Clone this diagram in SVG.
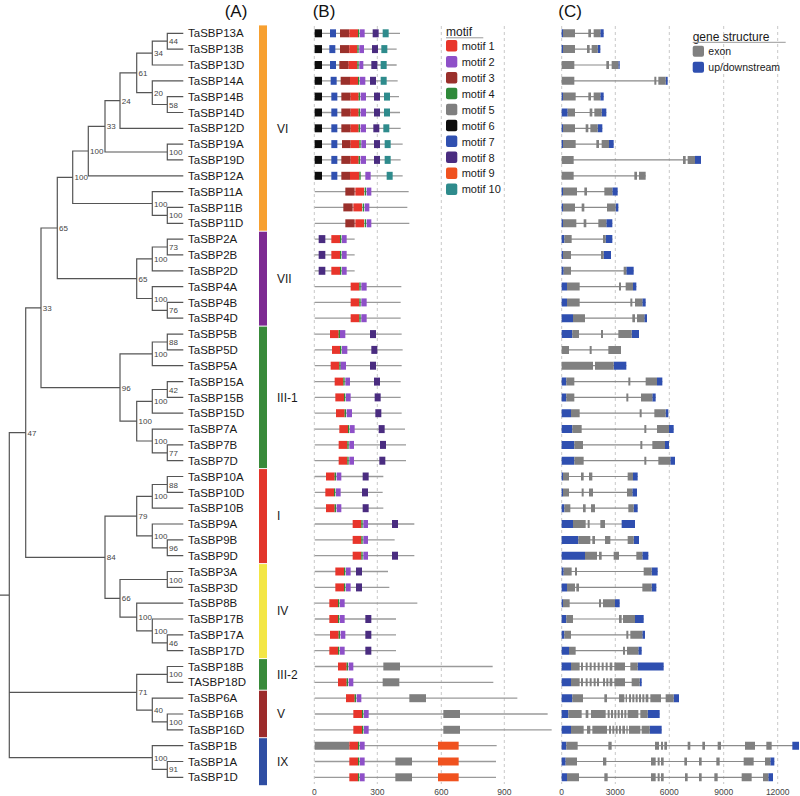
<svg xmlns="http://www.w3.org/2000/svg" width="800" height="796" viewBox="0 0 800 796">
<style>
text{font-family:"Liberation Sans",Arial,sans-serif}
.gn{font-size:11.5px;fill:#1a1a1a}
.bs{font-size:8px;fill:#444}
.cl{font-size:12px;fill:#1a1a1a}
.hd{font-size:17px;fill:#111}
.ax{font-size:8.5px;fill:#444;text-anchor:middle}
.lg{font-size:11px;fill:#1a1a1a}
.lgc{font-size:10.5px;fill:#1a1a1a}
.lt{font-size:12px;fill:#1a1a1a}
.tree{fill:none;stroke:#555;stroke-width:1.2}
.grid{stroke:#c8c8c8;stroke-dasharray:3 3;stroke-width:1}
.pl{stroke:#9a9a9a;stroke-width:1.3;fill:none}
.il{stroke:#8a8a8a;stroke-width:1.2;fill:none}
.m1{fill:#E8352B}.m2{fill:#8E50C8}.m3{fill:#9A302B}.m4{fill:#2F8A3A}.m5{fill:#7F7F7F}
.m6{fill:#0D0D0D}.m7{fill:#3050B0}.m8{fill:#4A2C80}.m9{fill:#F0521F}.m10{fill:#2E8B8C}
.ex{fill:#808080}.ud{fill:#2F4FB0}
</style>

<g id="headers">
<text class="hd" x="236" y="16.5" text-anchor="middle">(A)</text>
<text class="hd" x="312.7" y="16.5">(B)</text>
<text class="hd" x="558.3" y="16.5">(C)</text>
</g>

<g id="grid">
<path class="grid" d="M314.3 26V784M377.3 26V784M441.3 26V784M504.3 26V784M561.7 26V784M615.3 26V784M669.3 26V784M723.7 26V784M777.7 26V784"/>
</g>

<g id="connectors">
<path class="tree" d="M183.3 33.3H167.3V49.1H183.3M167.3 41.2H152.3V65H183.3M183.3 96.6H167.3V112.5H183.3M183.3 80.8H152.3V104.5H167.3M152.3 53.1H136.7V92.7H152.3M136.7 72.9H120V128.3H183.3M183.3 144.1H167.3V159.9H183.3M120 100.6H105V152H167.3M105 126.3H88.3V175.8H183.3M183.3 207.4H167.3V223.3H183.3M183.3 191.6H152.3V215.4H167.3M88.3 151H72.7V203.5H152.3M183.3 239.1H167.3V254.9H183.3M167.3 247H152.3V270.8H183.3M183.3 302.4H167.3V318.2H183.3M183.3 286.6H152.3V310.3H167.3M152.3 258.9H136.7V298.5H152.3M72.7 177.3H57.3V278.7H136.7M183.3 334.1H167.3V349.9H183.3M167.3 342H152.3V365.7H183.3M183.3 381.6H167.3V397.4H183.3M167.3 389.5H152.3V413.2H183.3M183.3 444.9H167.3V460.7H183.3M183.3 429.1H152.3V452.8H167.3M152.3 401.4H136.7V441H152.3M152.3 353.9H120V421.2H136.7M57.3 228H41V387.6H120M183.3 476.5H167.3V492.4H183.3M167.3 484.5H152.3V508.2H183.3M183.3 539.9H167.3V555.7H183.3M183.3 524H152.3V547.8H167.3M152.3 496.4H136.7V535.9H152.3M183.3 571.5H167.3V587.4H183.3M183.3 634.8H167.3V650.7H183.3M183.3 619H152.3V642.8H167.3M183.3 603.2H136.7V630.9H152.3M167.3 579.5H120V617.1H136.7M136.7 516.2H105V598.3H120M41 307.8H25.7V557.3H105M183.3 666.5H167.3V682.3H183.3M183.3 714H167.3V729.8H183.3M183.3 698.2H152.3V721.9H167.3M167.3 674.4H136.7V710.1H152.3M183.3 761.5H167.3V777.3H183.3M183.3 745.7H152.3V769.4H167.3M25.7 432.6H9.3V757.6H152.3M9.3 692.3H136.7M0 595.1H9.3"/>
</g>

<g id="bootstrap">
<text class="bs" x="169.1" y="44.2">44</text>
<text class="bs" x="154.1" y="56.1">34</text>
<text class="bs" x="169.1" y="107.5">58</text>
<text class="bs" x="154.1" y="95.7">20</text>
<text class="bs" x="138.5" y="75.9">61</text>
<text class="bs" x="121.8" y="103.6">24</text>
<text class="bs" x="169.1" y="155">100</text>
<text class="bs" x="106.8" y="129.3">33</text>
<text class="bs" x="90.1" y="154">100</text>
<text class="bs" x="169.1" y="218.4">100</text>
<text class="bs" x="154.1" y="206.5">100</text>
<text class="bs" x="74.5" y="180.3">100</text>
<text class="bs" x="169.1" y="250">73</text>
<text class="bs" x="154.1" y="261.9">100</text>
<text class="bs" x="169.1" y="313.3">76</text>
<text class="bs" x="154.1" y="301.5">100</text>
<text class="bs" x="138.5" y="281.7">65</text>
<text class="bs" x="59.1" y="231">65</text>
<text class="bs" x="169.1" y="345">88</text>
<text class="bs" x="154.1" y="356.9">100</text>
<text class="bs" x="169.1" y="392.5">42</text>
<text class="bs" x="154.1" y="404.4">100</text>
<text class="bs" x="169.1" y="455.8">77</text>
<text class="bs" x="154.1" y="444">100</text>
<text class="bs" x="138.5" y="424.2">100</text>
<text class="bs" x="121.8" y="390.6">96</text>
<text class="bs" x="42.8" y="310.8">33</text>
<text class="bs" x="169.1" y="487.5">88</text>
<text class="bs" x="154.1" y="499.4">100</text>
<text class="bs" x="169.1" y="550.8">96</text>
<text class="bs" x="154.1" y="538.9">100</text>
<text class="bs" x="138.5" y="519.2">79</text>
<text class="bs" x="169.1" y="582.5">100</text>
<text class="bs" x="169.1" y="645.8">46</text>
<text class="bs" x="154.1" y="633.9">100</text>
<text class="bs" x="138.5" y="620.1">100</text>
<text class="bs" x="121.8" y="601.3">66</text>
<text class="bs" x="106.8" y="560.3">84</text>
<text class="bs" x="27.5" y="435.6">47</text>
<text class="bs" x="169.1" y="677.4">100</text>
<text class="bs" x="169.1" y="724.9">100</text>
<text class="bs" x="154.1" y="713.1">40</text>
<text class="bs" x="138.5" y="695.3">71</text>
<text class="bs" x="169.1" y="772.4">91</text>
<text class="bs" x="154.1" y="760.6">100</text>
</g>

<g id="clades">
<rect x="259" y="25.4" width="8" height="205.3" fill="#F7A030"/>
<rect x="259" y="231.7" width="8" height="93.9" fill="#7D2A92"/>
<rect x="259" y="326.6" width="8" height="141.5" fill="#388A3A"/>
<rect x="259" y="469.1" width="8" height="94" fill="#E2352A"/>
<rect x="259" y="564.1" width="8" height="94" fill="#F3E645"/>
<rect x="259" y="659.1" width="8" height="30.6" fill="#388A3A"/>
<rect x="259" y="690.7" width="8" height="46.5" fill="#9C2B2B"/>
<rect x="259" y="738.2" width="8" height="47" fill="#2F4EA3"/>
<text class="cl" x="277" y="132.5">VI</text>
<text class="cl" x="277" y="282.8">VII</text>
<text class="cl" x="277" y="401.5">III-1</text>
<text class="cl" x="277" y="520.4">I</text>
<text class="cl" x="277" y="615">IV</text>
<text class="cl" x="277" y="678.8">III-2</text>
<text class="cl" x="277" y="718.2">V</text>
<text class="cl" x="277" y="765.8">IX</text>
</g>

<g id="legend-motif">
<text class="lt" x="446" y="36">motif</text>
<path d="M446 37.8H483.3" stroke="#999" stroke-width="1"/>
<rect class="m1" x="446" y="40" width="11.3" height="11.5" rx="2"/>
<rect class="m2" x="446" y="55.9" width="11.3" height="11.5" rx="2"/>
<rect class="m3" x="446" y="71.9" width="11.3" height="11.5" rx="2"/>
<rect class="m4" x="446" y="87.8" width="11.3" height="11.5" rx="2"/>
<rect class="m5" x="446" y="103.7" width="11.3" height="11.5" rx="2"/>
<rect class="m6" x="446" y="119.7" width="11.3" height="11.5" rx="2"/>
<rect class="m7" x="446" y="135.6" width="11.3" height="11.5" rx="2"/>
<rect class="m8" x="446" y="151.5" width="11.3" height="11.5" rx="2"/>
<rect class="m9" x="446" y="167.4" width="11.3" height="11.5" rx="2"/>
<rect class="m10" x="446" y="183.4" width="11.3" height="11.5" rx="2"/>
<text class="lg" x="461.7" y="50">motif 1</text>
<text class="lg" x="461.7" y="65.9">motif 2</text>
<text class="lg" x="461.7" y="81.9">motif 3</text>
<text class="lg" x="461.7" y="97.8">motif 4</text>
<text class="lg" x="461.7" y="113.7">motif 5</text>
<text class="lg" x="461.7" y="129.7">motif 6</text>
<text class="lg" x="461.7" y="145.6">motif 7</text>
<text class="lg" x="461.7" y="161.5">motif 8</text>
<text class="lg" x="461.7" y="177.4">motif 9</text>
<text class="lg" x="461.7" y="193.4">motif 10</text>
</g>

<g id="legend-structure">
<text class="lt" x="692.7" y="40.5">gene structure</text>
<path d="M692.7 42.3H785.7" stroke="#999" stroke-width="1"/>
<rect class="ex" x="692.7" y="45.7" width="11.3" height="11" rx="2"/>
<rect class="ud" x="692.7" y="61.7" width="11.3" height="11" rx="2"/>
<text class="lgc" x="708.3" y="54.8">exon</text>
<text class="lgc" x="708.3" y="70.6">up/downstream</text>
</g>

<g id="axes">
<text class="ax" x="314.3" y="794.5">0</text>
<text class="ax" x="377.3" y="794.5">300</text>
<text class="ax" x="441.3" y="794.5">600</text>
<text class="ax" x="504.3" y="794.5">900</text>
<text class="ax" x="561.7" y="794.5">0</text>
<text class="ax" x="615.3" y="794.5">3000</text>
<text class="ax" x="669.3" y="794.5">6000</text>
<text class="ax" x="723.7" y="794.5">9000</text>
<text class="ax" x="777.7" y="794.5">12000</text>
</g>

<g id="TaSBP13A" transform="translate(0,33.3)"><text class="gn" x="188" y="4.1">TaSBP13A</text>
<g transform="translate(300,0) scale(.333333,1)"><path class="pl" d="M44 0H300"/><path class="m6" d="M44-4H66v8H44z"/><path class="m7" d="M90-4H108v8H90z"/><path class="m3" d="M120-4H148v8H120z"/><path class="m1" d="M148-4H174v8H148z"/><path class="m4" d="M174-4H178v8H174z"/><path class="m2" d="M180-4H194v8H180z"/><path class="m8" d="M218-4H236v8H218z"/><path class="m10" d="M248-4H266v8H248z"/></g>
<g transform="translate(555,0) scale(.333333,1)"><path class="il" d="M20 0H146"/><path class="ud" d="M20-4H24v8H20zM136-4H146v8H136z"/><path class="ex" d="M24-4H60v8H24zM100-4H108v8H100zM116-4H136v8H116z"/></g></g>

<g id="TaSBP13B" transform="translate(0,49.1)"><text class="gn" x="188" y="4.1">TaSBP13B</text>
<g transform="translate(300,0) scale(.333333,1)"><path class="pl" d="M44 0H290"/><path class="m6" d="M44-4H66v8H44z"/><path class="m7" d="M88-4H106v8H88z"/><path class="m3" d="M120-4H148v8H120z"/><path class="m1" d="M148-4H172v8H148z"/><path class="m4" d="M172-4H176v8H172z"/><path class="m2" d="M178-4H192v8H178z"/><path class="m8" d="M216-4H234v8H216z"/><path class="m10" d="M244-4H262v8H244z"/></g>
<g transform="translate(555,0) scale(.333333,1)"><path class="il" d="M20 0H136"/><path class="ud" d="M20-4H24v8H20zM128-4H136v8H128z"/><path class="ex" d="M24-4H60v8H24zM96-4H104v8H96zM110-4H128v8H110z"/></g></g>

<g id="TaSBP13D" transform="translate(0,65)"><text class="gn" x="188" y="4.1">TaSBP13D</text>
<g transform="translate(300,0) scale(.333333,1)"><path class="pl" d="M44 0H290"/><path class="m6" d="M44-4H66v8H44z"/><path class="m7" d="M90-4H108v8H90z"/><path class="m3" d="M118-4H146v8H118z"/><path class="m1" d="M146-4H172v8H146z"/><path class="m4" d="M172-4H176v8H172z"/><path class="m2" d="M178-4H190v8H178z"/><path class="m8" d="M214-4H232v8H214z"/><path class="m10" d="M242-4H260v8H242z"/></g>
<g transform="translate(555,0) scale(.333333,1)"><path class="il" d="M20 0H194"/><path class="ud" d="M190-4H194v8H190z"/><path class="ex" d="M20-4H58v8H20zM154-4H162v8H154zM170-4H190v8H170z"/></g></g>

<g id="TaSBP14A" transform="translate(0,80.8)"><text class="gn" x="188" y="4.1">TaSBP14A</text>
<g transform="translate(300,0) scale(.333333,1)"><path class="pl" d="M44 0H293"/><path class="m6" d="M44-4H66v8H44z"/><path class="m7" d="M92-4H110v8H92z"/><path class="m3" d="M122-4H150v8H122z"/><path class="m1" d="M150-4H174v8H150z"/><path class="m4" d="M174-4H178v8H174z"/><path class="m2" d="M180-4H196v8H180z"/><path class="m8" d="M210-4H228v8H210z"/><path class="m10" d="M242-4H260v8H242z"/></g>
<g transform="translate(555,0) scale(.333333,1)"><path class="il" d="M20 0H338"/><path class="ud" d="M332-4H338v8H332z"/><path class="ex" d="M20-4H58v8H20zM298-4H304v8H298zM310-4H332v8H310z"/></g></g>

<g id="TaSBP14B" transform="translate(0,96.6)"><text class="gn" x="188" y="4.1">TaSBP14B</text>
<g transform="translate(300,0) scale(.333333,1)"><path class="pl" d="M44 0H297"/><path class="m6" d="M44-4H66v8H44z"/><path class="m7" d="M94-4H112v8H94z"/><path class="m3" d="M124-4H152v8H124z"/><path class="m1" d="M152-4H176v8H152z"/><path class="m4" d="M176-4H180v8H176z"/><path class="m2" d="M182-4H198v8H182z"/><path class="m8" d="M222-4H240v8H222z"/><path class="m10" d="M252-4H270v8H252z"/></g>
<g transform="translate(555,0) scale(.333333,1)"><path class="il" d="M20 0H146"/><path class="ud" d="M20-4H24v8H20zM136-4H146v8H136z"/><path class="ex" d="M24-4H62v8H24zM100-4H108v8H100zM116-4H136v8H116z"/></g></g>

<g id="TaSBP14D" transform="translate(0,112.5)"><text class="gn" x="188" y="4.1">TaSBP14D</text>
<g transform="translate(300,0) scale(.333333,1)"><path class="pl" d="M44 0H300"/><path class="m6" d="M44-4H66v8H44z"/><path class="m7" d="M94-4H112v8H94z"/><path class="m3" d="M124-4H152v8H124z"/><path class="m1" d="M152-4H176v8H152z"/><path class="m4" d="M176-4H180v8H176z"/><path class="m2" d="M182-4H198v8H182z"/><path class="m8" d="M222-4H240v8H222z"/><path class="m10" d="M252-4H270v8H252z"/></g>
<g transform="translate(555,0) scale(.333333,1)"><path class="il" d="M20 0H154"/><path class="ud" d="M20-4H38v8H20zM140-4H154v8H140z"/><path class="ex" d="M38-4H60v8H38zM104-4H112v8H104zM118-4H140v8H118z"/></g></g>

<g id="TaSBP12D" transform="translate(0,128.3)"><text class="gn" x="188" y="4.1">TaSBP12D</text>
<g transform="translate(300,0) scale(.333333,1)"><path class="pl" d="M44 0H302"/><path class="m6" d="M44-4H66v8H44z"/><path class="m7" d="M94-4H112v8H94z"/><path class="m3" d="M124-4H152v8H124z"/><path class="m1" d="M152-4H176v8H152z"/><path class="m4" d="M176-4H180v8H176z"/><path class="m2" d="M182-4H198v8H182z"/><path class="m8" d="M220-4H238v8H220z"/><path class="m10" d="M250-4H268v8H250z"/></g>
<g transform="translate(555,0) scale(.333333,1)"><path class="il" d="M20 0H142"/><path class="ud" d="M20-4H24v8H20zM128-4H142v8H128z"/><path class="ex" d="M24-4H60v8H24zM92-4H100v8H92zM106-4H128v8H106z"/></g></g>

<g id="TaSBP19A" transform="translate(0,144.1)"><text class="gn" x="188" y="4.1">TaSBP19A</text>
<g transform="translate(300,0) scale(.333333,1)"><path class="pl" d="M44 0H308"/><path class="m6" d="M44-4H66v8H44z"/><path class="m7" d="M94-4H112v8H94z"/><path class="m3" d="M126-4H152v8H126z"/><path class="m1" d="M152-4H178v8H152z"/><path class="m4" d="M178-4H182v8H178z"/><path class="m2" d="M184-4H198v8H184z"/><path class="m8" d="M222-4H240v8H222z"/><path class="m10" d="M254-4H272v8H254z"/></g>
<g transform="translate(555,0) scale(.333333,1)"><path class="il" d="M20 0H176"/><path class="ud" d="M20-4H24v8H20zM162-4H176v8H162z"/><path class="ex" d="M24-4H62v8H24zM124-4H132v8H124zM140-4H162v8H140z"/></g></g>

<g id="TaSBP19D" transform="translate(0,159.9)"><text class="gn" x="188" y="4.1">TaSBP19D</text>
<g transform="translate(300,0) scale(.333333,1)"><path class="pl" d="M44 0H302"/><path class="m6" d="M44-4H66v8H44z"/><path class="m7" d="M94-4H112v8H94z"/><path class="m3" d="M124-4H152v8H124z"/><path class="m1" d="M152-4H176v8H152z"/><path class="m4" d="M176-4H180v8H176z"/><path class="m2" d="M182-4H198v8H182z"/><path class="m8" d="M222-4H240v8H222z"/><path class="m10" d="M254-4H272v8H254z"/></g>
<g transform="translate(555,0) scale(.333333,1)"><path class="il" d="M20 0H438"/><path class="ud" d="M420-4H438v8H420z"/><path class="ex" d="M20-4H56v8H20zM384-4H392v8H384zM398-4H420v8H398z"/></g></g>

<g id="TaSBP12A" transform="translate(0,175.8)"><text class="gn" x="188" y="4.1">TaSBP12A</text>
<g transform="translate(300,0) scale(.333333,1)"><path class="pl" d="M44 0H308"/><path class="m6" d="M44-4H66v8H44z"/><path class="m7" d="M94-4H112v8H94z"/><path class="m3" d="M124-4H150v8H124z"/><path class="m1" d="M150-4H178v8H150z"/><path class="m4" d="M178-4H182v8H178z"/><path class="m2" d="M196-4H212v8H196z"/><path class="m10" d="M260-4H278v8H260z"/></g>
<g transform="translate(555,0) scale(.333333,1)"><path class="il" d="M20 0H272"/><path class="ex" d="M20-4H56v8H20zM238-4H246v8H238zM252-4H272v8H252z"/></g></g>

<g id="TaSBP11A" transform="translate(0,191.6)"><text class="gn" x="188" y="4.1">TaSBP11A</text>
<g transform="translate(300,0) scale(.333333,1)"><path class="pl" d="M44 0H326"/><path class="m3" d="M136-4H164v8H136z"/><path class="m1" d="M166-4H192v8H166z"/><path class="m4" d="M194-4H198v8H194z"/><path class="m2" d="M200-4H214v8H200z"/></g>
<g transform="translate(555,0) scale(.333333,1)"><path class="il" d="M20 0H188"/><path class="ud" d="M20-4H24v8H20zM172-4H188v8H172z"/><path class="ex" d="M24-4H66v8H24zM88-4H96v8H88zM148-4H172v8H148z"/></g></g>

<g id="TaSBP11B" transform="translate(0,207.4)"><text class="gn" x="188" y="4.1">TaSBP11B</text>
<g transform="translate(300,0) scale(.333333,1)"><path class="pl" d="M44 0H322"/><path class="m3" d="M130-4H158v8H130z"/><path class="m1" d="M160-4H186v8H160z"/><path class="m4" d="M188-4H192v8H188z"/><path class="m2" d="M194-4H208v8H194z"/></g>
<g transform="translate(555,0) scale(.333333,1)"><path class="il" d="M20 0H190"/><path class="ud" d="M20-4H24v8H20zM182-4H190v8H182z"/><path class="ex" d="M24-4H60v8H24zM80-4H88v8H80zM156-4H182v8H156z"/></g></g>

<g id="TaSBP11D" transform="translate(0,223.3)"><text class="gn" x="188" y="4.1">TaSBP11D</text>
<g transform="translate(300,0) scale(.333333,1)"><path class="pl" d="M44 0H328"/><path class="m3" d="M136-4H164v8H136z"/><path class="m1" d="M166-4H192v8H166z"/><path class="m4" d="M194-4H198v8H194z"/><path class="m2" d="M200-4H214v8H200z"/></g>
<g transform="translate(555,0) scale(.333333,1)"><path class="il" d="M20 0H172"/><path class="ud" d="M20-4H24v8H20zM154-4H172v8H154z"/><path class="ex" d="M24-4H64v8H24zM86-4H94v8H86zM130-4H154v8H130z"/></g></g>

<g id="TaSBP2A" transform="translate(0,239.1)"><text class="gn" x="188" y="4.1">TaSBP2A</text>
<g transform="translate(300,0) scale(.333333,1)"><path class="pl" d="M44 0H164"/><path class="m8" d="M56-4H76v8H56z"/><path class="m1" d="M94-4H120v8H94z"/><path class="m4" d="M120-4H124v8H120z"/><path class="m2" d="M126-4H140v8H126z"/></g>
<g transform="translate(555,0) scale(.333333,1)"><path class="il" d="M20 0H172"/><path class="ud" d="M20-4H28v8H20zM152-4H172v8H152z"/><path class="ex" d="M28-4H50v8H28zM144-4H152v8H144z"/></g></g>

<g id="TaSBP2B" transform="translate(0,254.9)"><text class="gn" x="188" y="4.1">TaSBP2B</text>
<g transform="translate(300,0) scale(.333333,1)"><path class="pl" d="M44 0H164"/><path class="m8" d="M56-4H76v8H56z"/><path class="m1" d="M94-4H120v8H94z"/><path class="m4" d="M120-4H124v8H120z"/><path class="m2" d="M126-4H140v8H126z"/></g>
<g transform="translate(555,0) scale(.333333,1)"><path class="il" d="M20 0H168"/><path class="ud" d="M20-4H24v8H20zM146-4H168v8H146z"/><path class="ex" d="M24-4H48v8H24zM138-4H146v8H138z"/></g></g>

<g id="TaSBP2D" transform="translate(0,270.8)"><text class="gn" x="188" y="4.1">TaSBP2D</text>
<g transform="translate(300,0) scale(.333333,1)"><path class="pl" d="M44 0H164"/><path class="m8" d="M56-4H76v8H56z"/><path class="m1" d="M94-4H120v8H94z"/><path class="m4" d="M120-4H124v8H120z"/><path class="m2" d="M126-4H140v8H126z"/></g>
<g transform="translate(555,0) scale(.333333,1)"><path class="il" d="M20 0H236"/><path class="ud" d="M20-4H26v8H20zM214-4H236v8H214z"/><path class="ex" d="M26-4H48v8H26zM206-4H214v8H206z"/></g></g>

<g id="TaSBP4A" transform="translate(0,286.6)"><text class="gn" x="188" y="4.1">TaSBP4A</text>
<g transform="translate(300,0) scale(.333333,1)"><path class="pl" d="M44 0H304"/><path class="m1" d="M152-4H178v8H152z"/><path class="m4" d="M178-4H182v8H178z"/><path class="m2" d="M184-4H200v8H184z"/></g>
<g transform="translate(555,0) scale(.333333,1)"><path class="il" d="M20 0H244"/><path class="ud" d="M20-4H36v8H20zM234-4H244v8H234z"/><path class="ex" d="M36-4H74v8H36zM192-4H198v8H192zM212-4H234v8H212z"/></g></g>

<g id="TaSBP4B" transform="translate(0,302.4)"><text class="gn" x="188" y="4.1">TaSBP4B</text>
<g transform="translate(300,0) scale(.333333,1)"><path class="pl" d="M44 0H302"/><path class="m1" d="M152-4H178v8H152z"/><path class="m4" d="M178-4H182v8H178z"/><path class="m2" d="M184-4H200v8H184z"/></g>
<g transform="translate(555,0) scale(.333333,1)"><path class="il" d="M20 0H272"/><path class="ud" d="M20-4H36v8H20zM262-4H272v8H262z"/><path class="ex" d="M36-4H74v8H36zM226-4H232v8H226zM240-4H262v8H240z"/></g></g>

<g id="TaSBP4D" transform="translate(0,318.2)"><text class="gn" x="188" y="4.1">TaSBP4D</text>
<g transform="translate(300,0) scale(.333333,1)"><path class="pl" d="M44 0H302"/><path class="m1" d="M152-4H178v8H152z"/><path class="m4" d="M178-4H182v8H178z"/><path class="m2" d="M184-4H200v8H184z"/></g>
<g transform="translate(555,0) scale(.333333,1)"><path class="il" d="M20 0H276"/><path class="ud" d="M20-4H54v8H20zM268-4H276v8H268z"/><path class="ex" d="M54-4H90v8H54zM232-4H240v8H232zM246-4H268v8H246z"/></g></g>

<g id="TaSBP5B" transform="translate(0,334.1)"><text class="gn" x="188" y="4.1">TaSBP5B</text>
<g transform="translate(300,0) scale(.333333,1)"><path class="pl" d="M44 0H305"/><path class="m1" d="M90-4H116v8H90z"/><path class="m4" d="M116-4H120v8H116z"/><path class="m2" d="M120-4H136v8H120z"/><path class="m8" d="M210-4H228v8H210z"/></g>
<g transform="translate(555,0) scale(.333333,1)"><path class="il" d="M20 0H252"/><path class="ud" d="M20-4H52v8H20zM230-4H252v8H230z"/><path class="ex" d="M52-4H72v8H52zM138-4H144v8H138zM190-4H230v8H190z"/></g></g>

<g id="TaSBP5D" transform="translate(0,349.9)"><text class="gn" x="188" y="4.1">TaSBP5D</text>
<g transform="translate(300,0) scale(.333333,1)"><path class="pl" d="M44 0H308"/><path class="m1" d="M96-4H120v8H96z"/><path class="m4" d="M120-4H124v8H120z"/><path class="m2" d="M126-4H142v8H126z"/><path class="m8" d="M214-4H232v8H214z"/></g>
<g transform="translate(555,0) scale(.333333,1)"><path class="il" d="M20 0H198"/><path class="ex" d="M20-4H42v8H20zM104-4H110v8H104zM160-4H198v8H160z"/></g></g>

<g id="TaSBP5A" transform="translate(0,365.7)"><text class="gn" x="188" y="4.1">TaSBP5A</text>
<g transform="translate(300,0) scale(.333333,1)"><path class="pl" d="M44 0H305"/><path class="m1" d="M92-4H118v8H92z"/><path class="m4" d="M118-4H122v8H118z"/><path class="m2" d="M122-4H138v8H122z"/><path class="m8" d="M210-4H228v8H210z"/></g>
<g transform="translate(555,0) scale(.333333,1)"><path class="il" d="M20 0H214"/><path class="ud" d="M176-4H214v8H176z"/><path class="ex" d="M20-4H114v8H20zM120-4H176v8H120z"/></g></g>

<g id="TaSBP15A" transform="translate(0,381.6)"><text class="gn" x="188" y="4.1">TaSBP15A</text>
<g transform="translate(300,0) scale(.333333,1)"><path class="pl" d="M44 0H302"/><path class="m1" d="M104-4H130v8H104z"/><path class="m4" d="M130-4H134v8H130z"/><path class="m2" d="M136-4H150v8H136z"/><path class="m8" d="M222-4H240v8H222z"/></g>
<g transform="translate(555,0) scale(.333333,1)"><path class="il" d="M20 0H322"/><path class="ud" d="M20-4H34v8H20zM306-4H322v8H306z"/><path class="ex" d="M34-4H58v8H34zM220-4H226v8H220zM272-4H306v8H272z"/></g></g>

<g id="TaSBP15B" transform="translate(0,397.4)"><text class="gn" x="188" y="4.1">TaSBP15B</text>
<g transform="translate(300,0) scale(.333333,1)"><path class="pl" d="M44 0H302"/><path class="m1" d="M106-4H132v8H106z"/><path class="m4" d="M132-4H136v8H132z"/><path class="m2" d="M138-4H152v8H138z"/><path class="m8" d="M224-4H242v8H224z"/></g>
<g transform="translate(555,0) scale(.333333,1)"><path class="il" d="M20 0H302"/><path class="ud" d="M20-4H34v8H20zM292-4H302v8H292z"/><path class="ex" d="M34-4H58v8H34zM214-4H220v8H214zM258-4H292v8H258z"/></g></g>

<g id="TaSBP15D" transform="translate(0,413.2)"><text class="gn" x="188" y="4.1">TaSBP15D</text>
<g transform="translate(300,0) scale(.333333,1)"><path class="pl" d="M44 0H305"/><path class="m1" d="M108-4H134v8H108z"/><path class="m4" d="M134-4H138v8H134z"/><path class="m2" d="M140-4H156v8H140z"/><path class="m8" d="M226-4H244v8H226z"/></g>
<g transform="translate(555,0) scale(.333333,1)"><path class="il" d="M20 0H340"/><path class="ud" d="M20-4H48v8H20zM332-4H340v8H332z"/><path class="ex" d="M48-4H74v8H48zM254-4H260v8H254zM298-4H332v8H298z"/></g></g>

<g id="TaSBP7A" transform="translate(0,429.1)"><text class="gn" x="188" y="4.1">TaSBP7A</text>
<g transform="translate(300,0) scale(.333333,1)"><path class="pl" d="M44 0H315"/><path class="m1" d="M118-4H144v8H118z"/><path class="m4" d="M144-4H148v8H144z"/><path class="m2" d="M150-4H164v8H150z"/><path class="m8" d="M236-4H254v8H236z"/></g>
<g transform="translate(555,0) scale(.333333,1)"><path class="il" d="M20 0H356"/><path class="ud" d="M20-4H52v8H20zM342-4H356v8H342z"/><path class="ex" d="M52-4H80v8H52zM268-4H274v8H268zM306-4H342v8H306z"/></g></g>

<g id="TaSBP7B" transform="translate(0,444.9)"><text class="gn" x="188" y="4.1">TaSBP7B</text>
<g transform="translate(300,0) scale(.333333,1)"><path class="pl" d="M44 0H318"/><path class="m1" d="M116-4H142v8H116z"/><path class="m4" d="M142-4H146v8H142z"/><path class="m2" d="M148-4H162v8H148z"/><path class="m8" d="M240-4H258v8H240z"/></g>
<g transform="translate(555,0) scale(.333333,1)"><path class="il" d="M20 0H342"/><path class="ud" d="M20-4H58v8H20zM330-4H342v8H330z"/><path class="ex" d="M58-4H84v8H58zM256-4H262v8H256zM292-4H330v8H292z"/></g></g>

<g id="TaSBP7D" transform="translate(0,460.7)"><text class="gn" x="188" y="4.1">TaSBP7D</text>
<g transform="translate(300,0) scale(.333333,1)"><path class="pl" d="M44 0H318"/><path class="m1" d="M116-4H142v8H116z"/><path class="m4" d="M142-4H146v8H142z"/><path class="m2" d="M148-4H162v8H148z"/><path class="m8" d="M238-4H256v8H238z"/></g>
<g transform="translate(555,0) scale(.333333,1)"><path class="il" d="M20 0H360"/><path class="ud" d="M20-4H58v8H20zM346-4H360v8H346z"/><path class="ex" d="M58-4H86v8H58zM268-4H274v8H268zM310-4H346v8H310z"/></g></g>

<g id="TaSBP10A" transform="translate(0,476.5)"><text class="gn" x="188" y="4.1">TaSBP10A</text>
<g transform="translate(300,0) scale(.333333,1)"><path class="pl" d="M44 0H250"/><path class="m1" d="M78-4H104v8H78z"/><path class="m4" d="M104-4H108v8H104z"/><path class="m2" d="M110-4H124v8H110z"/><path class="m8" d="M188-4H206v8H188z"/></g>
<g transform="translate(555,0) scale(.333333,1)"><path class="il" d="M20 0H248"/><path class="ud" d="M20-4H24v8H20zM234-4H248v8H234z"/><path class="ex" d="M24-4H42v8H24zM78-4H86v8H78zM102-4H112v8H102zM218-4H234v8H218z"/></g></g>

<g id="TaSBP10D" transform="translate(0,492.4)"><text class="gn" x="188" y="4.1">TaSBP10D</text>
<g transform="translate(300,0) scale(.333333,1)"><path class="pl" d="M44 0H248"/><path class="m1" d="M76-4H102v8H76z"/><path class="m4" d="M102-4H106v8H102z"/><path class="m2" d="M108-4H122v8H108z"/><path class="m8" d="M186-4H204v8H186z"/></g>
<g transform="translate(555,0) scale(.333333,1)"><path class="il" d="M20 0H246"/><path class="ud" d="M20-4H24v8H20zM232-4H246v8H232z"/><path class="ex" d="M24-4H42v8H24zM80-4H86v8H80zM102-4H114v8H102zM216-4H232v8H216z"/></g></g>

<g id="TaSBP10B" transform="translate(0,508.2)"><text class="gn" x="188" y="4.1">TaSBP10B</text>
<g transform="translate(300,0) scale(.333333,1)"><path class="pl" d="M44 0H250"/><path class="m1" d="M78-4H104v8H78z"/><path class="m4" d="M104-4H108v8H104z"/><path class="m2" d="M110-4H124v8H110z"/><path class="m8" d="M188-4H206v8H188z"/></g>
<g transform="translate(555,0) scale(.333333,1)"><path class="il" d="M20 0H248"/><path class="ud" d="M20-4H28v8H20zM236-4H248v8H236z"/><path class="ex" d="M28-4H46v8H28zM84-4H92v8H84zM108-4H120v8H108zM220-4H236v8H220z"/></g></g>

<g id="TaSBP9A" transform="translate(0,524)"><text class="gn" x="188" y="4.1">TaSBP9A</text>
<g transform="translate(300,0) scale(.333333,1)"><path class="pl" d="M44 0H343"/><path class="m1" d="M158-4H184v8H158z"/><path class="m4" d="M184-4H188v8H184z"/><path class="m2" d="M190-4H204v8H190z"/><path class="m8" d="M276-4H294v8H276z"/></g>
<g transform="translate(555,0) scale(.333333,1)"><path class="il" d="M20 0H240"/><path class="ud" d="M20-4H54v8H20zM200-4H240v8H200z"/><path class="ex" d="M54-4H92v8H54zM98-4H104v8H98zM136-4H150v8H136z"/></g></g>

<g id="TaSBP9B" transform="translate(0,539.9)"><text class="gn" x="188" y="4.1">TaSBP9B</text>
<g transform="translate(300,0) scale(.333333,1)"><path class="pl" d="M44 0H284"/><path class="m1" d="M158-4H184v8H158z"/><path class="m4" d="M184-4H188v8H184z"/><path class="m2" d="M190-4H204v8H190z"/></g>
<g transform="translate(555,0) scale(.333333,1)"><path class="il" d="M20 0H252"/><path class="ud" d="M20-4H70v8H20zM236-4H252v8H236z"/><path class="ex" d="M70-4H106v8H70zM112-4H120v8H112zM150-4H166v8H150zM218-4H236v8H218z"/></g></g>

<g id="TaSBP9D" transform="translate(0,555.7)"><text class="gn" x="188" y="4.1">TaSBP9D</text>
<g transform="translate(300,0) scale(.333333,1)"><path class="pl" d="M44 0H343"/><path class="m1" d="M158-4H184v8H158z"/><path class="m4" d="M184-4H188v8H184z"/><path class="m2" d="M190-4H204v8H190z"/><path class="m8" d="M276-4H294v8H276z"/></g>
<g transform="translate(555,0) scale(.333333,1)"><path class="il" d="M20 0H280"/><path class="ud" d="M20-4H90v8H20zM262-4H280v8H262z"/><path class="ex" d="M90-4H126v8H90zM132-4H140v8H132zM176-4H192v8H176zM244-4H262v8H244z"/></g></g>

<g id="TaSBP3A" transform="translate(0,571.5)"><text class="gn" x="188" y="4.1">TaSBP3A</text>
<g transform="translate(300,0) scale(.333333,1)"><path class="pl" d="M44 0H264"/><path class="m1" d="M106-4H132v8H106z"/><path class="m4" d="M132-4H136v8H132z"/><path class="m2" d="M138-4H152v8H138z"/><path class="m8" d="M168-4H186v8H168z"/></g>
<g transform="translate(555,0) scale(.333333,1)"><path class="il" d="M20 0H308"/><path class="ud" d="M20-4H26v8H20zM290-4H308v8H290z"/><path class="ex" d="M26-4H50v8H26zM60-4H66v8H60zM266-4H290v8H266z"/></g></g>

<g id="TaSBP3D" transform="translate(0,587.4)"><text class="gn" x="188" y="4.1">TaSBP3D</text>
<g transform="translate(300,0) scale(.333333,1)"><path class="pl" d="M44 0H268"/><path class="m1" d="M106-4H132v8H106z"/><path class="m4" d="M132-4H136v8H132z"/><path class="m2" d="M138-4H152v8H138z"/><path class="m8" d="M168-4H186v8H168z"/></g>
<g transform="translate(555,0) scale(.333333,1)"><path class="il" d="M20 0H304"/><path class="ud" d="M20-4H36v8H20zM290-4H304v8H290z"/><path class="ex" d="M36-4H60v8H36zM64-4H72v8H64zM262-4H290v8H262z"/></g></g>

<g id="TaSBP8B" transform="translate(0,603.2)"><text class="gn" x="188" y="4.1">TaSBP8B</text>
<g transform="translate(300,0) scale(.333333,1)"><path class="pl" d="M44 0H352"/><path class="m1" d="M88-4H114v8H88z"/><path class="m4" d="M114-4H118v8H114z"/><path class="m2" d="M120-4H134v8H120z"/></g>
<g transform="translate(555,0) scale(.333333,1)"><path class="il" d="M20 0H194"/><path class="ud" d="M20-4H24v8H20zM180-4H194v8H180z"/><path class="ex" d="M24-4H44v8H24zM132-4H138v8H132zM144-4H180v8H144z"/></g></g>

<g id="TaSBP17B" transform="translate(0,619)"><text class="gn" x="188" y="4.1">TaSBP17B</text>
<g transform="translate(300,0) scale(.333333,1)"><path class="pl" d="M44 0H288"/><path class="m1" d="M88-4H114v8H88z"/><path class="m4" d="M114-4H118v8H114z"/><path class="m2" d="M120-4H134v8H120z"/><path class="m8" d="M196-4H214v8H196z"/></g>
<g transform="translate(555,0) scale(.333333,1)"><path class="il" d="M20 0H266"/><path class="ud" d="M20-4H34v8H20zM240-4H266v8H240z"/><path class="ex" d="M34-4H54v8H34zM192-4H200v8H192zM204-4H240v8H204z"/></g></g>

<g id="TaSBP17A" transform="translate(0,634.8)"><text class="gn" x="188" y="4.1">TaSBP17A</text>
<g transform="translate(300,0) scale(.333333,1)"><path class="pl" d="M44 0H288"/><path class="m1" d="M90-4H116v8H90z"/><path class="m4" d="M116-4H120v8H116z"/><path class="m2" d="M122-4H136v8H122z"/><path class="m8" d="M196-4H214v8H196z"/></g>
<g transform="translate(555,0) scale(.333333,1)"><path class="il" d="M20 0H270"/><path class="ud" d="M20-4H28v8H20zM262-4H270v8H262z"/><path class="ex" d="M28-4H48v8H28zM214-4H220v8H214zM226-4H262v8H226z"/></g></g>

<g id="TaSBP17D" transform="translate(0,650.7)"><text class="gn" x="188" y="4.1">TaSBP17D</text>
<g transform="translate(300,0) scale(.333333,1)"><path class="pl" d="M44 0H288"/><path class="m1" d="M88-4H114v8H88z"/><path class="m4" d="M114-4H118v8H114z"/><path class="m2" d="M120-4H134v8H120z"/><path class="m8" d="M196-4H214v8H196z"/></g>
<g transform="translate(555,0) scale(.333333,1)"><path class="il" d="M20 0H260"/><path class="ud" d="M20-4H42v8H20zM250-4H260v8H250z"/><path class="ex" d="M42-4H62v8H42zM204-4H210v8H204zM216-4H250v8H216z"/></g></g>

<g id="TaSBP18B" transform="translate(0,666.5)"><text class="gn" x="188" y="4.1">TaSBP18B</text>
<g transform="translate(300,0) scale(.333333,1)"><path class="pl" d="M44 0H578"/><path class="m1" d="M114-4H140v8H114z"/><path class="m4" d="M140-4H144v8H140z"/><path class="m2" d="M146-4H160v8H146z"/><path class="m5" d="M250-4H300v8H250z"/></g>
<g transform="translate(555,0) scale(.333333,1)"><path class="il" d="M20 0H326"/><path class="ud" d="M20-4H48v8H20zM248-4H326v8H248z"/><path class="ex" d="M48-4H74v8H48zM78-4H84v8H78zM92-4H98v8H92zM104-4H110v8H104zM116-4H122v8H116zM128-4H134v8H128zM140-4H146v8H140zM152-4H158v8H152zM164-4H172v8H164zM178-4H210v8H178zM226-4H248v8H226z"/></g></g>

<g id="TASBP18D" transform="translate(0,682.3)"><text class="gn" x="188" y="4.1">TASBP18D</text>
<g transform="translate(300,0) scale(.333333,1)"><path class="pl" d="M44 0H580"/><path class="m1" d="M114-4H140v8H114z"/><path class="m4" d="M140-4H144v8H140z"/><path class="m2" d="M146-4H160v8H146z"/><path class="m5" d="M248-4H298v8H248z"/></g>
<g transform="translate(555,0) scale(.333333,1)"><path class="il" d="M20 0H260"/><path class="ud" d="M20-4H48v8H20zM254-4H260v8H254z"/><path class="ex" d="M48-4H74v8H48zM78-4H84v8H78zM92-4H98v8H92zM104-4H110v8H104zM116-4H122v8H116zM126-4H132v8H126zM144-4H150v8H144zM154-4H160v8H154zM164-4H172v8H164zM178-4H210v8H178zM230-4H254v8H230z"/></g></g>

<g id="TaSBP6A" transform="translate(0,698.2)"><text class="gn" x="188" y="4.1">TaSBP6A</text>
<g transform="translate(300,0) scale(.333333,1)"><path class="pl" d="M44 0H652"/><path class="m1" d="M138-4H164v8H138z"/><path class="m4" d="M164-4H168v8H164z"/><path class="m2" d="M170-4H184v8H170z"/><path class="m5" d="M328-4H378v8H328z"/></g>
<g transform="translate(555,0) scale(.333333,1)"><path class="il" d="M20 0H372"/><path class="ud" d="M20-4H52v8H20zM356-4H372v8H356z"/><path class="ex" d="M52-4H84v8H52zM148-4H156v8H148zM192-4H208v8H192zM212-4H216v8H212zM222-4H228v8H222zM232-4H238v8H232zM242-4H248v8H242zM252-4H258v8H252zM262-4H268v8H262zM272-4H280v8H272zM286-4H318v8H286zM332-4H356v8H332z"/></g></g>

<g id="TaSBP16B" transform="translate(0,714)"><text class="gn" x="188" y="4.1">TaSBP16B</text>
<g transform="translate(300,0) scale(.333333,1)"><path class="pl" d="M44 0H743"/><path class="m1" d="M160-4H186v8H160z"/><path class="m4" d="M186-4H190v8H186z"/><path class="m2" d="M192-4H206v8H192z"/><path class="m5" d="M430-4H480v8H430z"/></g>
<g transform="translate(555,0) scale(.333333,1)"><path class="il" d="M20 0H314"/><path class="ud" d="M20-4H40v8H20zM278-4H314v8H278z"/><path class="ex" d="M40-4H80v8H40zM92-4H100v8H92zM108-4H152v8H108zM158-4H164v8H158zM168-4H174v8H168zM178-4H184v8H178zM188-4H194v8H188zM198-4H204v8H198zM208-4H214v8H208zM218-4H250v8H218zM256-4H278v8H256z"/></g></g>

<g id="TaSBP16D" transform="translate(0,729.8)"><text class="gn" x="188" y="4.1">TaSBP16D</text>
<g transform="translate(300,0) scale(.333333,1)"><path class="pl" d="M44 0H755"/><path class="m1" d="M160-4H186v8H160z"/><path class="m4" d="M186-4H190v8H186z"/><path class="m2" d="M192-4H206v8H192z"/><path class="m5" d="M430-4H480v8H430z"/></g>
<g transform="translate(555,0) scale(.333333,1)"><path class="il" d="M20 0H320"/><path class="ud" d="M20-4H48v8H20zM284-4H320v8H284z"/><path class="ex" d="M48-4H86v8H48zM96-4H106v8H96zM112-4H156v8H112zM162-4H168v8H162zM172-4H178v8H172zM182-4H188v8H182zM192-4H198v8H192zM202-4H210v8H202zM214-4H218v8H214zM222-4H256v8H222zM260-4H284v8H260z"/></g></g>

<g id="TaSBP1B" transform="translate(0,745.7)"><text class="gn" x="188" y="4.1">TaSBP1B</text>
<g transform="translate(300,0) scale(.333333,1)"><path class="pl" d="M44 0H590"/><path class="m5" d="M44-4H148v8H44z"/><path class="m1" d="M148-4H174v8H148z"/><path class="m4" d="M174-4H178v8H174z"/><path class="m2" d="M180-4H194v8H180z"/><path class="m9" d="M414-4H476v8H414z"/></g>
<g transform="translate(555,0) scale(.333333,1)"><path class="il" d="M20 0H732"/><path class="ud" d="M20-4H34v8H20zM712-4H732v8H712z"/><path class="ex" d="M34-4H68v8H34zM160-4H170v8H160zM300-4H312v8H300zM318-4H324v8H318zM328-4H336v8H328zM398-4H406v8H398zM442-4H450v8H442zM488-4H498v8H488zM570-4H600v8H570zM634-4H650v8H634z"/></g></g>

<g id="TaSBP1A" transform="translate(0,761.5)"><text class="gn" x="188" y="4.1">TaSBP1A</text>
<g transform="translate(300,0) scale(.333333,1)"><path class="pl" d="M44 0H588"/><path class="m1" d="M148-4H174v8H148z"/><path class="m4" d="M174-4H178v8H174z"/><path class="m2" d="M180-4H194v8H180z"/><path class="m5" d="M286-4H336v8H286z"/><path class="m9" d="M414-4H476v8H414z"/></g>
<g transform="translate(555,0) scale(.333333,1)"><path class="il" d="M20 0H658"/><path class="ud" d="M20-4H32v8H20zM646-4H658v8H646z"/><path class="ex" d="M32-4H66v8H32zM144-4H154v8H144zM288-4H302v8H288zM308-4H314v8H308zM318-4H326v8H318zM388-4H396v8H388zM432-4H440v8H432zM484-4H494v8H484zM566-4H596v8H566zM630-4H646v8H630z"/></g></g>

<g id="TaSBP1D" transform="translate(0,777.3)"><text class="gn" x="188" y="4.1">TaSBP1D</text>
<g transform="translate(300,0) scale(.333333,1)"><path class="pl" d="M44 0H588"/><path class="m1" d="M148-4H174v8H148z"/><path class="m4" d="M174-4H178v8H174z"/><path class="m2" d="M180-4H194v8H180z"/><path class="m5" d="M286-4H336v8H286z"/><path class="m9" d="M414-4H476v8H414z"/></g>
<g transform="translate(555,0) scale(.333333,1)"><path class="il" d="M20 0H654"/><path class="ud" d="M20-4H36v8H20zM640-4H654v8H640z"/><path class="ex" d="M36-4H72v8H36zM148-4H158v8H148zM288-4H302v8H288zM308-4H314v8H308zM318-4H326v8H318zM390-4H398v8H390zM432-4H440v8H432zM478-4H488v8H478zM560-4H590v8H560zM624-4H640v8H624z"/></g></g>
</svg>
